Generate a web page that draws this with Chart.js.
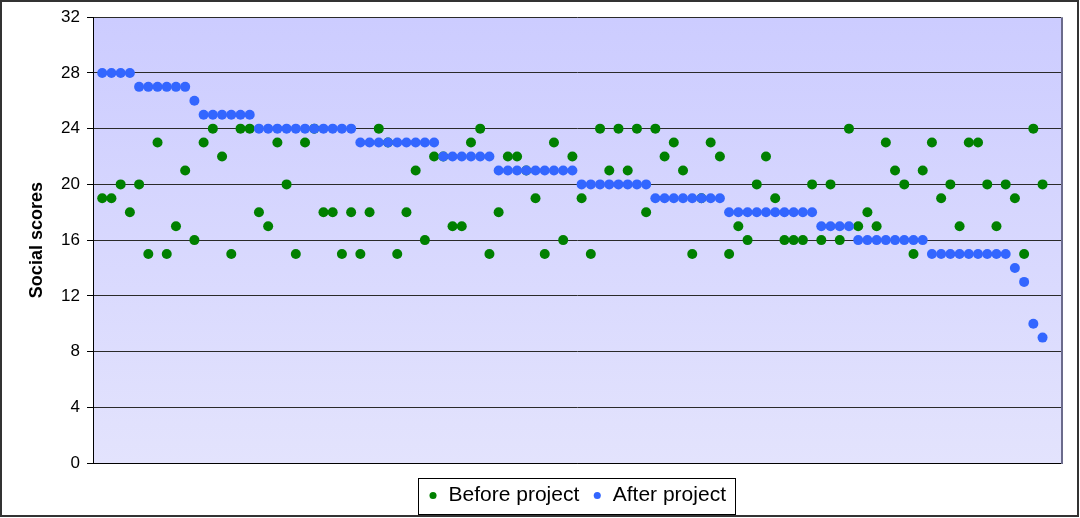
<!DOCTYPE html>
<html>
<head>
<meta charset="utf-8">
<script src="https://cdn.jsdelivr.net/npm/chart.js@4.4.0/dist/chart.umd.min.js"></script>
<style>
    html, body { margin: 0; padding: 0; background: #fff; }
    #wrap { width: 1080px; height: 518px; }
</style>
</head>
<body>
<div id="wrap"><canvas id="scoresChart" width="1080" height="518"></canvas></div>
<script>
// Social scores per participant
const seriesNames = ['Before project', 'After project'];

const beforeScores = [
    19, 19, 20, 18, 20, 15, 23, 15, 17, 21,
    16, 23, 24, 22, 15, 24, 24, 18, 17, 23,
    20, 15, 23, 24, 18, 18, 15, 18, 15, 18,
    24, 23, 15, 18, 21, 16, 22, 22, 17, 17,
    23, 24, 15, 18, 22, 22, 21, 19, 15, 23,
    16, 22, 19, 15, 24, 21, 24, 21, 24, 18,
    24, 22, 23, 21, 15, 19, 23, 22, 15, 17,
    16, 20, 22, 19, 16, 16, 16, 20, 16, 20,
    16, 24, 17, 18, 17, 23, 21, 20, 15, 21,
    23, 19, 20, 17, 23, 23, 20, 17, 20, 19,
    15, 24, 20
];

const afterScores = [
    28, 28, 28, 28, 27, 27, 27, 27, 27, 27,
    26, 25, 25, 25, 25, 25, 25, 24, 24, 24,
    24, 24, 24, 24, 24, 24, 24, 24, 23, 23,
    23, 23, 23, 23, 23, 23, 23, 22, 22, 22,
    22, 22, 22, 21, 21, 21, 21, 21, 21, 21,
    21, 21, 20, 20, 20, 20, 20, 20, 20, 20,
    19, 19, 19, 19, 19, 19, 19, 19, 18, 18,
    18, 18, 18, 18, 18, 18, 18, 18, 17, 17,
    17, 17, 16, 16, 16, 16, 16, 16, 16, 16,
    15, 15, 15, 15, 15, 15, 15, 15, 15, 14,
    13, 10, 9
];

const yTicks = [0, 4, 8, 12, 16, 20, 24, 28, 32];

const FONT = "'Liberation Sans', Arial, sans-serif";

// plot background, outer frame and legend box
const framePlugin = {
    id: 'frame',
    afterLayout(chart) {
        // legend is centred under the plot area, not the whole canvas
        const lg = chart.legend;
        lg.left = chart.chartArea.left;
        lg.right = chart.chartArea.right;
        lg.width = lg.right - lg.left;
    },
    beforeDraw(chart) {
        const {ctx, chartArea: a} = chart;
        ctx.save();
        ctx.fillStyle = '#fff';
        ctx.fillRect(0, 0, chart.width, chart.height);
        const grad = ctx.createLinearGradient(0, a.top, 0, a.bottom);
        grad.addColorStop(0, '#CCCCFF');
        grad.addColorStop(1, '#E3E3FD');
        ctx.fillStyle = grad;
        ctx.fillRect(a.left, a.top, a.right - a.left, a.bottom - a.top);
        ctx.restore();
    },
    afterDraw(chart) {
        const {ctx, chartArea: a} = chart;
        ctx.save();
        // right edge of plot
        ctx.strokeStyle = '#6B6B8C';
        ctx.lineWidth = 2;
        ctx.beginPath();
        ctx.moveTo(a.right + 1, a.top);
        ctx.lineTo(a.right + 1, a.bottom + 1);
        ctx.stroke();
        // outer frame
        ctx.strokeStyle = '#333';
        ctx.lineWidth = 2;
        ctx.strokeRect(1, 1, chart.width - 3, chart.height - 3);
        // legend frame
        const lg = chart.legend;
        const lw = lg.lineWidths[0];
        const cx = (lg.left + lg.right) / 2;
        ctx.strokeStyle = '#000';
        ctx.lineWidth = 1;
        ctx.strokeRect(Math.round(cx - lw / 2 - 4) + 0.5, Math.round(lg.top + 6) + 0.5,
            Math.round(lw + 6), Math.round(lg.height - 8));
        ctx.restore();
    }
};

new Chart(document.getElementById('scoresChart').getContext('2d'), {
    type: 'scatter',
    data: {
        datasets: [{
            label: seriesNames[0],
            data: beforeScores.map((v, i) => ({x: i + 1, y: v})),
            backgroundColor: '#008000',
            borderColor: '#008000',
            pointRadius: 5,
            borderWidth: 0,
            order: 2
        }, {
            label: seriesNames[1],
            data: afterScores.map((v, i) => ({x: i + 1, y: v})),
            backgroundColor: '#3366FF',
            borderColor: '#3366FF',
            pointRadius: 5,
            borderWidth: 0,
            order: 1
        }]
    },
    options: {
        responsive: false,
        animation: false,
        events: [],
        layout: {
            padding: {left: 0, right: 19, top: 17, bottom: 2}
        },
        plugins: {
            tooltip: {enabled: false},
            legend: {
                display: true,
                position: 'bottom',
                labels: {
                    usePointStyle: true,
                    pointStyle: 'circle',
                    boxWidth: 10,
                    boxHeight: 5,
                    padding: 13,
                    color: '#000',
                    font: {family: FONT, size: 21},
                    // keep dataset order (Before first) despite draw order
                    sort: (a, b) => a.datasetIndex - b.datasetIndex
                }
            }
        },
        scales: {
            x: {
                type: 'linear',
                min: 0,
                max: 105,
                ticks: {display: false},
                grid: {display: false},
                border: {display: true, color: '#000', width: 1},
                afterFit(scale) { scale.height = 9; }
            },
            y: {
                min: 0,
                max: 32,
                afterBuildTicks(scale) {
                    scale.ticks = yTicks.map(v => ({value: v}));
                },
                ticks: {
                    color: '#000',
                    padding: 7,
                    font: {family: FONT, size: 17}
                },
                grid: {
                    color: '#2a2a2a',
                    lineWidth: 1,
                    tickLength: 6,
                    tickColor: '#000'
                },
                border: {display: true, color: '#000', width: 1},
                title: {
                    display: true,
                    text: 'Social scores',
                    color: '#000',
                    padding: {top: 26, bottom: 0},
                    font: {family: FONT, size: 18, weight: 'bold'}
                },
                afterFit(scale) { scale.width = 93; }
            }
        }
    },
    plugins: [framePlugin]
});
</script>
</body>
</html>
